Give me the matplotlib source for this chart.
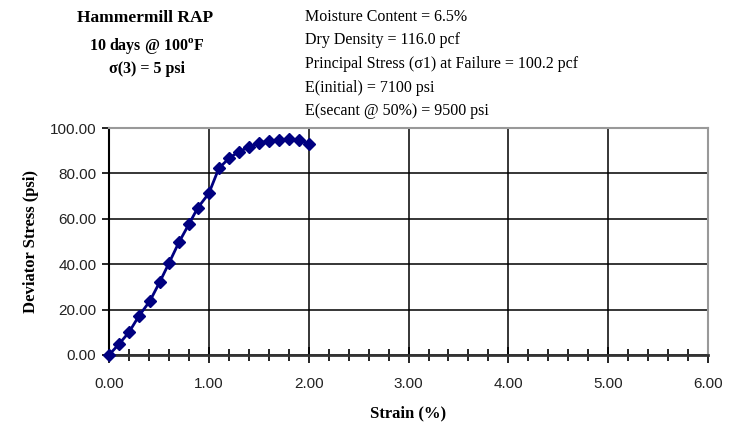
import matplotlib
matplotlib.use("Agg")
import matplotlib.pyplot as plt
from matplotlib.ticker import MultipleLocator, FormatStrFormatter

# Triaxial test readings: strain (%) vs deviator stress (psi)
strain = [0.00, 0.10, 0.20, 0.30, 0.41, 0.51, 0.60, 0.70, 0.80, 0.89,
          1.00, 1.10, 1.20, 1.30, 1.40, 1.50, 1.60, 1.70, 1.80, 1.90, 2.00]
stress = [0.0, 4.8, 10.0, 17.2, 23.8, 32.3, 40.4, 49.6, 57.6, 64.9,
          71.2, 82.2, 86.6, 89.6, 91.5, 93.2, 94.4, 94.7, 95.2, 94.7, 93.0]

title_lines = ["Hammermill RAP", "10 days @ 100$^{\\mathrm{o}}$F", "\u03c3(3) = 5 psi"]
info_lines = [
    "Moisture Content = 6.5%",
    "Dry Density = 116.0 pcf",
    "Principal Stress (\u03c31) at Failure = 100.2 pcf",
    "E(initial) = 7100 psi",
    "E(secant @ 50%) = 9500 psi",
]

serif = "Liberation Serif"
sans = "Liberation Sans"
plt.rcParams["mathtext.fontset"] = "custom"
plt.rcParams["mathtext.rm"] = "Liberation Serif:bold"

fig = plt.figure(figsize=(7.30, 4.26), dpi=100)
ax = fig.add_axes([0.1493, 0.1667, 0.8207, 0.5328])

ax.plot(strain, stress, color="#000080", lw=2.0, marker="D", ms=6,
        markeredgecolor="#000080", zorder=5, clip_on=False)

ax.set_xlim(0, 6)
ax.set_ylim(0, 100)
ax.xaxis.set_major_locator(MultipleLocator(1))
ax.xaxis.set_minor_locator(MultipleLocator(0.2))
ax.yaxis.set_major_locator(MultipleLocator(20))
ax.xaxis.set_major_formatter(FormatStrFormatter("%.2f"))
ax.yaxis.set_major_formatter(FormatStrFormatter("%.2f"))

ax.grid(True, which="major", color="black", lw=1.1)
ax.set_axisbelow(True)

for side in ("top", "right"):
    ax.spines[side].set_color("#999999")
    ax.spines[side].set_linewidth(1.5)
ax.spines["left"].set_color("black")
ax.spines["left"].set_linewidth(1.5)
ax.spines["bottom"].set_color("#333333")
ax.spines["bottom"].set_linewidth(2.0)

ax.tick_params(axis="x", which="both", direction="inout", length=9, width=1.2,
               color="black", pad=10)
ax.tick_params(axis="x", which="major", length=12)
ax.tick_params(axis="y", which="major", direction="out", length=5, width=1.2,
               color="black", pad=4)
for lab in ax.get_xticklabels() + ax.get_yticklabels():
    lab.set_fontfamily(sans)
    lab.set_fontsize(11)
    lab.set_color("#222222")

ax.set_xlabel("Strain (%)", fontfamily=serif, fontweight="bold", fontsize=12, labelpad=10)
ax.set_ylabel("Deviator Stress (psi)", fontfamily=serif, fontweight="bold", fontsize=12, labelpad=8)

fig.text(145 / 730, 1 - 18 / 426, title_lines[0], ha="center", va="center",
         fontfamily=serif, fontweight="bold", fontsize=12.5)
fig.text(147 / 730, 1 - 46 / 426, title_lines[1], ha="center", va="center",
         fontfamily=serif, fontweight="bold", fontsize=11.5)
fig.text(147 / 730, 1 - 69 / 426, title_lines[2], ha="center", va="center",
         fontfamily=serif, fontweight="bold", fontsize=11.5)

for i, line in enumerate(info_lines):
    fig.text(305 / 730, 1 - (17 + 23.5 * i) / 426, line, ha="left", va="center",
             fontfamily=serif, fontsize=11.5)

fig.savefig("out.png", dpi=100)
